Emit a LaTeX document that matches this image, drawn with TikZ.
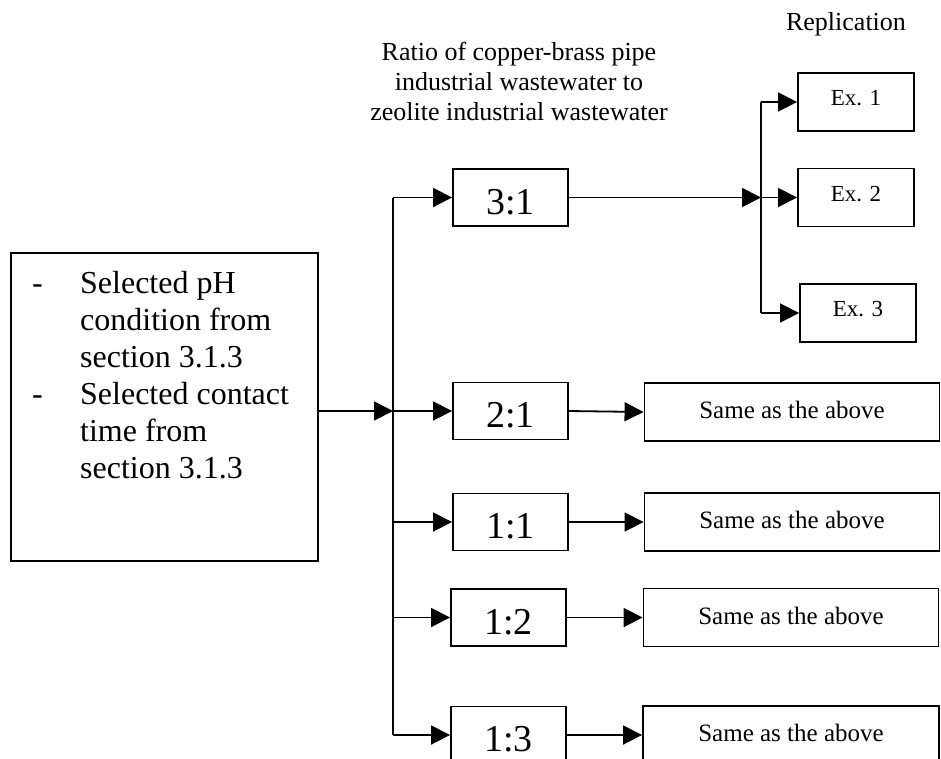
\documentclass[tikz,border=0pt]{standalone}
\usepackage{fontspec}
\setmainfont{Liberation Serif}
\usetikzlibrary{arrows.meta}
\tikzset{
  box/.style={draw, line width=1.9pt, inner sep=0pt},
  ratiobox/.style={box, minimum width=115pt, minimum height=57pt, font=\fontsize{38}{44}\selectfont, text height=33pt, text depth=0pt},
  samebox/.style={box, minimum width=295pt, minimum height=58pt, font=\fontsize{25}{29}\selectfont, text height=17pt, text depth=4pt},
  exbox/.style={box, minimum width=116pt, minimum height=58pt, font=\fontsize{23}{27}\selectfont, text height=15.5pt, text depth=8pt},
  arr/.style={line width=1.8pt, -{Triangle[length=19pt,width=19pt]}},
  ln/.style={line width=1.8pt},
}
\begin{document}
\begin{tikzpicture}[x=1pt, y=-1pt]
\useasboundingbox (0,0) rectangle (941,758);
\clip (0,0) rectangle (941,758);

% left condition box
\node[box, minimum width=307pt, minimum height=308pt] (cond) at (164.5,407) {};
\node[inner sep=0pt, anchor=base west, font=\fontsize{32}{37}\selectfont] (condtxt) at (32,293)
  {\begin{tabular}[t]{@{}p{48pt}@{}l@{}}
   -&Selected pH\\
    &condition from\\
    &section 3.1.3\\
   -&Selected contact\\
    &time from\\
    &section 3.1.3
   \end{tabular}};

% headers
\node[inner sep=0pt, anchor=base, font=\fontsize{26}{30}\selectfont] (hdr) at (519,60)
  {\begin{tabular}[t]{@{}c@{}}
   Ratio of copper-brass pipe\\
   industrial wastewater to\\
   zeolite industrial wastewater
   \end{tabular}};
\node[inner sep=0pt, anchor=base, font=\fontsize{26}{30}\selectfont] (repl) at (846,30) {Replication};

% ratio boxes
\node[ratiobox] (r31) at (510.5,197.5) {3:1};
\node[ratiobox] (r21) at (510.5,411) {2:1};
\node[ratiobox] (r11) at (510.5,522) {1:1};
\node[ratiobox] (r12) at (508.5,617.5) {1:2};
\node[ratiobox] (r13) at (508.5,735) {1:3};

% replication boxes
\node[exbox] (ex1) at (856,102) {Ex. 1};
\node[exbox] (ex2) at (856,197.5) {Ex. 2};
\node[exbox] (ex3) at (858,313) {Ex. 3};

% same-as boxes
\node[samebox] (s21) at (792,412) {Same as the above};
\node[samebox] (s11) at (792,522) {Same as the above};
\node[samebox] (s12) at (791,617.5) {Same as the above};
\node[samebox, minimum width=296pt] (s13) at (791,735) {Same as the above};

% trunk
\coordinate (jmain) at (393,411);
\draw[arr] (cond.east |- jmain) -- (jmain);
\draw[ln] (jmain |- r31) -- (jmain |- r13);
\draw[arr] (jmain |- r31) -- (r31.west);
\draw[arr] (jmain |- r21) -- (r21.west);
\draw[arr] (jmain |- r11) -- (r11.west);
\draw[arr] (jmain |- r12) -- (r12.west);
\draw[arr] (jmain |- r13) -- (r13.west);

% fork to replications
\coordinate (fork) at (761,197.5);
\draw[arr] (r31.east) -- (fork);
\draw[ln] (fork |- ex1) -- (fork |- ex3);
\draw[arr] (fork |- ex1) -- (ex1.west);
\draw[arr] (fork) -- (ex2.west);
\draw[arr] (fork |- ex3) -- (ex3.west);

% ratio to same-as
\draw[arr] (r21.east) -- (s21.west);
\draw[arr] (r11.east) -- (s11.west);
\draw[arr] (r12.east) -- (s12.west);
\draw[arr] (r13.east) -- (s13.west);
\end{tikzpicture}
\end{document}
